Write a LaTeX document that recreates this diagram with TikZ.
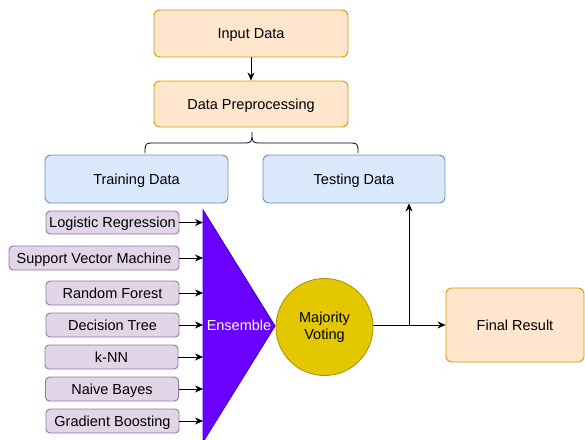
\documentclass[tikz,border=0pt]{standalone}
\usepackage{fontspec}
\setmainfont{Liberation Sans}
\usetikzlibrary{arrows.meta,calc}
\definecolor{orfill}{HTML}{FFE6CC}
\definecolor{ordraw}{HTML}{D79B00}
\definecolor{blfill}{HTML}{DAE8FC}
\definecolor{bldraw}{HTML}{6C8EBF}
\definecolor{pufill}{HTML}{E1D5E7}
\definecolor{pudraw}{HTML}{9673A6}
\definecolor{vifill}{HTML}{6A00FF}
\definecolor{vidraw}{HTML}{3700CC}
\definecolor{yefill}{HTML}{E3C800}
\definecolor{yedraw}{HTML}{B09500}
\tikzset{
  box/.style={draw, rounded corners=6pt, inner sep=0pt, line width=0.9pt, font=\fontsize{14.5}{17}\selectfont, text height=10.4pt, text depth=0pt},
  orbox/.style={box, fill=orfill, draw=ordraw},
  blbox/.style={box, fill=blfill, draw=bldraw},
  pubox/.style={box, fill=pufill, draw=pudraw, rounded corners=4pt},
  arr/.style={-{Stealth[length=8pt,width=7pt]}, line width=0.8pt, black},
}
\begin{document}
\begin{tikzpicture}[x=1pt,y=-1pt]
\useasboundingbox (0,0) rectangle (585,439);
\clip (0,0) rectangle (585,439);
% top boxes
\node[orbox, minimum width=194pt, minimum height=47pt] (inp) at (251,33.5) {Input Data};
\node[orbox, minimum width=194pt, minimum height=46pt] (pre) at (251,104) {Data Preprocessing};
\draw[arr] (inp.south) -- (pre.north);
% brace
\coordinate (bl) at (145,153);
\coordinate (bt) at (252,132);
\coordinate (br) at (358,153);
\draw[line width=0.8pt] (bl) .. controls (145,143) .. (155,143) -- (242,143)
  .. controls (252,143) .. (bt) .. controls (252,143) .. (262,143) -- (348,143)
  .. controls (358,143) .. (br);
% train/test
\node[blbox, minimum width=183pt, minimum height=48pt] (train) at (136.5,179) {Training Data};
\node[blbox, minimum width=182pt, minimum height=48pt] (test) at (354,179) {Testing Data};
% classifiers
\node[pubox, minimum width=133pt, minimum height=23pt] (lr) at (112.5,222.5) {Logistic Regression};
\node[pubox, minimum width=170pt, minimum height=24pt] (svm) at (94,258) {Support Vector Machine};
\node[pubox, minimum width=133pt, minimum height=24pt] (rf) at (112.5,293) {Random Forest};
\node[pubox, minimum width=133pt, minimum height=24pt] (dt) at (112.5,325) {Decision Tree};
\node[pubox, minimum width=133pt, minimum height=24pt] (knn) at (111.5,357) {k-NN};
\node[pubox, minimum width=133pt, minimum height=24pt] (nb) at (112,389) {Naive Bayes};
\node[pubox, minimum width=133pt, minimum height=24pt] (gb) at (112.5,421) {Gradient Boosting};
% ensemble triangle
\draw[fill=vifill, draw=vidraw, line width=0.9pt] (203,210) -- (275,326) -- (203,442) -- cycle;
\coordinate (ensL) at (203,326);
\node[text=white, font=\fontsize{14.5}{17}\selectfont, text height=10.4pt, text depth=0pt, inner sep=0pt] (ens) at (239,325) {Ensemble};
\foreach \n in {lr,svm,rf,dt,knn,nb,gb}{
  \draw[arr] (\n.east) -- (\n.east -| ensL);
}
% majority voting
\node[circle, fill=yefill, draw=yedraw, line width=0.9pt, minimum size=97pt, inner sep=0pt, align=center, font=\fontsize{14.5}{17.5}\selectfont] (mv) at (324.5,327) {Majority\\Voting};
% final result
\node[orbox, minimum width=138pt, minimum height=74pt] (fin) at (515,325) {Final Result};
\coordinate (jn) at (409,325);
\draw[line width=0.8pt] (mv.east |- jn) -- (jn);
\draw[arr] (jn) -- (fin.west |- jn);
\draw[arr] (jn) -- (jn |- test.south);
\end{tikzpicture}
\end{document}
